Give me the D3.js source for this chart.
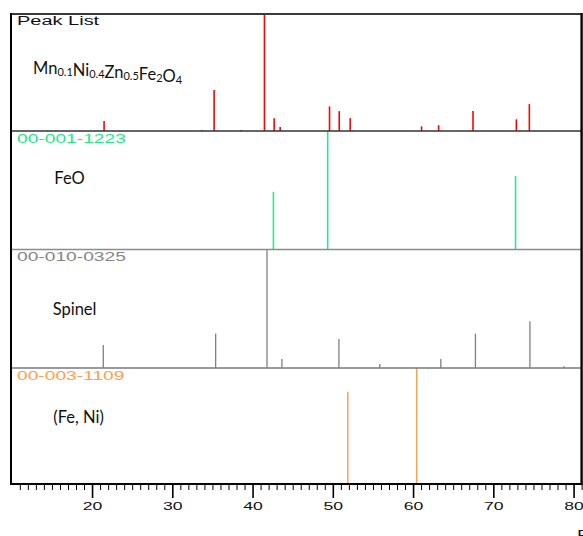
<!DOCTYPE html>
<html>
<head>
<meta charset="utf-8">
<script src="https://cdn.jsdelivr.net/npm/d3@7"></script>
<style>
  html, body { margin: 0; padding: 0; background: #fff; }
  svg { display: block; }
</style>
</head>
<body>
<svg id="chart" width="583" height="536"></svg>
<script>
// Peak positions (°2θ) and relative intensities (%) for each pattern
const peakListPos = [21.5, 33.7, 35.21, 38.58, 41.48, 42.69, 43.44, 49.59, 50.80, 52.17, 61.06, 63.18, 67.47, 72.87, 74.49];
const peakListInt = [8.5, 0.8, 35, 0.8, 100, 11, 3.5, 21, 17, 11, 4, 5, 17, 10, 23];

const feoPos = [42.6, 49.36, 72.77];
const feoInt = [48.7, 100, 62];

const spinelPos = [21.4, 35.4, 41.8, 43.66, 50.76, 55.86, 63.46, 67.77, 74.56, 78.8];
const spinelInt = [19.5, 29, 100, 7.6, 24.5, 3.4, 7.6, 29, 39.5, 1.5];

const feNiPos = [51.87, 60.45];
const feNiInt = [79.5, 100];

const refCodes = ["Peak List", "00-001-1223", "00-010-0325", "00-003-1109"];
const phaseNames = ["Mn0.1Ni0.4Zn0.5Fe2O4", "FeO", "Spinel", "(Fe, Ni)"];
const peakColors = ["#ff0000", "#1ef088", "#808080", "#f9a24e"];
const codeColors = ["#111111", "#22ea88", "#858585", "#ffa04a"];

const majorTicks = [20, 30, 40, 50, 60, 70, 80];
const minorTicks = d3.range(11, 82, 1).filter(v => v % 10 !== 0);
const axisTitle = "Position [°2Theta] (Copper (Cu))";

// Layout
const W = 583, H = 536;
const left = 11, right = 581.6;
const panelEdges = [14, 131, 249.5, 368, 484];
const plotBottom = panelEdges[4];

const svg = d3.select("#chart");
svg.append("rect").attr("width", W).attr("height", H).attr("fill", "#fff");

const x = d3.scaleLinear().domain([9.9, 81.0]).range([left, right]);

const panels = [
  { pos: peakListPos, int: peakListInt, width: 1.6 },
  { pos: feoPos, int: feoInt, width: 1.6 },
  { pos: spinelPos, int: spinelInt, width: 1.3 },
  { pos: feNiPos, int: feNiInt, width: 1.5 }
];

const wideFont = "'Liberation Sans', Arial, sans-serif";
const labelFont = "Lato, 'Open Sans', sans-serif";

panels.forEach((p, i) => {
  const top = panelEdges[i], base = panelEdges[i + 1];
  const y = d3.scaleLinear().domain([0, 100]).range([base, top]);
  const g = svg.append("g").attr("class", "panel");

  // reference code, drawn stretched horizontally
  g.append("text")
    .attr("transform", `translate(17,${top + (i === 0 ? 11 : 11.5)}) scale(1.6,1)`)
    .attr("font-family", wideFont)
    .attr("font-size", i === 0 ? 12.5 : 12)
    .attr("fill", codeColors[i])
    .text(refCodes[i]);

  // stick pattern
  g.selectAll("line.peak")
    .data(p.pos.map((v, k) => ({ pos: v, int: p.int[k] })))
    .join("line")
    .attr("class", "peak")
    .attr("x1", d => x(d.pos)).attr("x2", d => x(d.pos))
    .attr("y1", y(0)).attr("y2", d => y(d.int))
    .attr("stroke", peakColors[i])
    .attr("stroke-width", p.width);
});

// Phase names
const nameY = [73.5, 184, 315, 423.3];
const nameX = [33, 54.3, 52.7, 53.3];
phaseNames.forEach((name, i) => {
  const t = svg.append("text")
    .attr("x", nameX[i]).attr("y", nameY[i])
    .attr("font-family", labelFont)
    .attr("font-size", 16.5)
    .attr("fill", "#111");
  if (i === 0) {
    // chemical formula with subscripts
    const parts = [["Mn", "0.1"], ["Ni", "0.4"], ["Zn", "0.5"], ["Fe", "2"], ["O", "4"]];
    parts.forEach(([el, sub]) => {
      t.append("tspan").attr("font-size", 16.5).attr("dy", 0).text(el);
      t.append("tspan").attr("font-size", 11).attr("dy", 2).text(sub);
      t.append("tspan").attr("font-size", 16.5).attr("dy", -2).text("");
    });
  } else {
    t.text(name);
  }
});

// Panel dividers
const dividerColors = ["#333333", "#8c8c8c", "#7a7a7a"];
[1, 2, 3].forEach((k, j) => {
  svg.append("line")
    .attr("x1", left).attr("x2", right)
    .attr("y1", panelEdges[k]).attr("y2", panelEdges[k])
    .attr("stroke", dividerColors[j]).attr("stroke-width", 1.3);
});

// Frame
svg.append("line").attr("x1", left).attr("x2", right).attr("y1", 14).attr("y2", 14)
  .attr("stroke", "#3a3a3a").attr("stroke-width", 1.8);
svg.append("line").attr("x1", left).attr("x2", left).attr("y1", 13).attr("y2", plotBottom + 1)
  .attr("stroke", "#000").attr("stroke-width", 2);
svg.append("line").attr("x1", right).attr("x2", right).attr("y1", 13).attr("y2", plotBottom + 1)
  .attr("stroke", "#000").attr("stroke-width", 2.4);

// Bottom axis: minor ticks every degree, major ticks every 10°
const minorAxis = d3.axisBottom(x).tickValues(minorTicks).tickSize(6).tickFormat("");
const gMinor = svg.append("g").attr("transform", `translate(0,${plotBottom})`).call(minorAxis);
gMinor.select(".domain").remove();
gMinor.selectAll(".tick line").attr("stroke", "#000").attr("stroke-width", 1);

const majorAxis = d3.axisBottom(x).tickValues(majorTicks).tickSize(14).tickFormat(d3.format("d"));
const gMajor = svg.append("g").attr("transform", `translate(0,${plotBottom})`).call(majorAxis);
gMajor.select(".domain").remove();
gMajor.selectAll(".tick line").attr("stroke", "#000").attr("stroke-width", 1.6);
gMajor.selectAll(".tick text")
  .attr("y", 0).attr("dy", 0)
  .attr("transform", "translate(0,26) scale(1.6,1)")
  .attr("font-family", wideFont)
  .attr("font-size", 11)
  .attr("fill", "#111");

svg.append("line").attr("x1", left - 1).attr("x2", right + 1).attr("y1", plotBottom).attr("y2", plotBottom)
  .attr("stroke", "#000").attr("stroke-width", 2);

// Axis title (runs past the right edge)
svg.append("text")
  .attr("transform", `translate(577,538.6) scale(1.6,1)`)
  .attr("font-family", wideFont)
  .attr("font-size", 12)
  .attr("fill", "#111")
  .text(axisTitle);
</script>
</body>
</html>
